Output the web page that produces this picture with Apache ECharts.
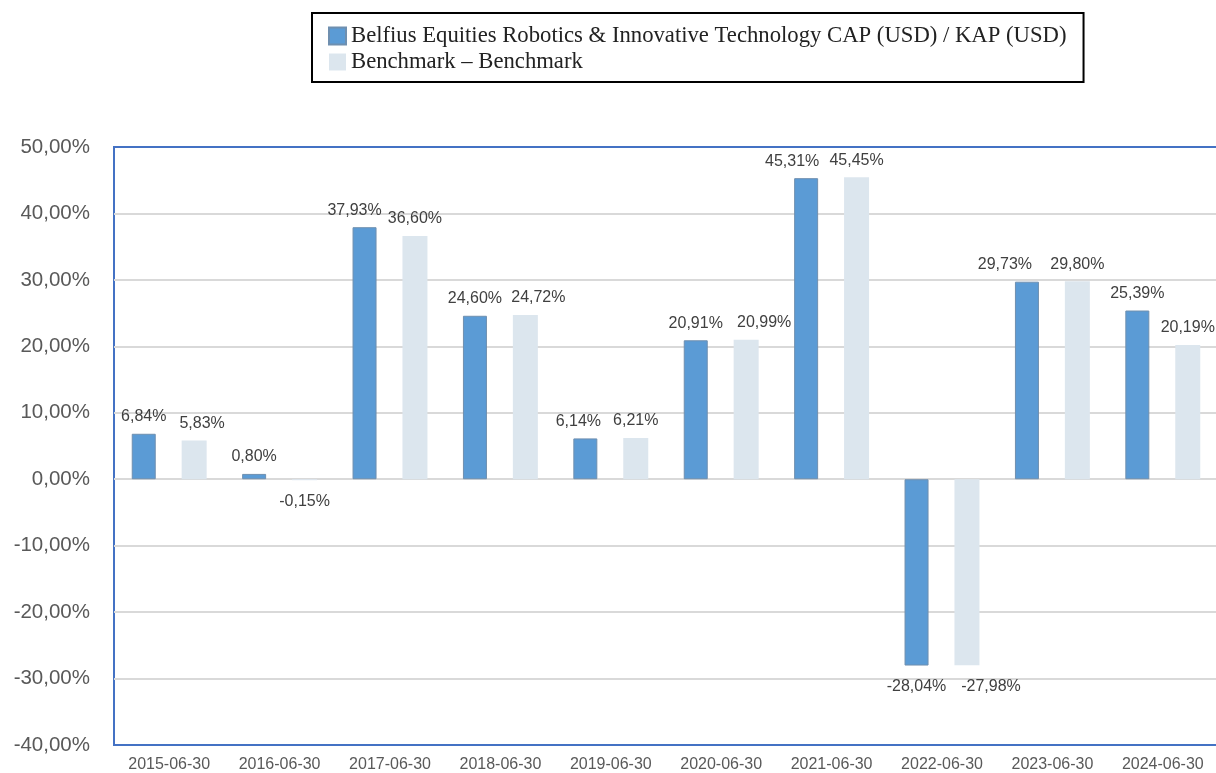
<!DOCTYPE html>
<html>
<head>
<meta charset="utf-8">
<script src="https://cdn.jsdelivr.net/npm/echarts@6/dist/echarts.min.js"></script>
<style>
  html, body { margin: 0; padding: 0; background: #fff; overflow: hidden; }
  /* 图表比窗口略宽，让右侧边框落在画面之外 */
  #chart { width: 1224px; height: 773px; }
</style>
</head>
<body>
<div id="chart"></div>
<script>
// 数据
const categories = ['2015-06-30', '2016-06-30', '2017-06-30', '2018-06-30', '2019-06-30',
  '2020-06-30', '2021-06-30', '2022-06-30', '2023-06-30', '2024-06-30'];
const fundName = 'Belfius Equities Robotics & Innovative Technology CAP (USD) / KAP (USD)';
const benchName = 'Benchmark \u2013 Benchmark';
const fundValues = [6.84, 0.80, 37.93, 24.60, 6.14, 20.91, 45.31, -28.04, 29.73, 25.39];
const benchValues = [5.83, -0.15, 36.60, 24.72, 6.21, 20.99, 45.45, -27.98, 29.80, 20.19];

// 标签水平偏移（模仿原图中避让重叠的标签位置）
const fundLabelShift = [0, 0, -10, 0, -7, 0, -14, 0, -22, 0];
const benchLabelShift = [8, 0, 0, 13, 0, 18, 0, 24, 0, 0];

const fmt = v => v.toFixed(2).replace('.', ',') + '%';

// 正值标签在上，负值标签在下
const withLabels = vals => vals.map(v => ({
  value: v,
  label: { position: v < 0 ? 'bottom' : 'top', distance: v < 0 ? 13 : 9 }
}));

const labelStyle = {
  show: true,
  color: '#404040',
  fontFamily: 'Liberation Sans',
  fontSize: 16,
  formatter: p => fmt(p.value)
};

const chart = echarts.init(document.getElementById('chart'));

const option = {
  backgroundColor: '#ffffff',
  animation: false,
  legend: {
    orient: 'vertical',
    left: 312,
    top: 13,
    padding: [11, 17, 8, 16],
    itemGap: 2,
    itemWidth: 17,
    itemHeight: 17,
    borderColor: '#000000',
    borderWidth: 2,
    icon: 'rect',
    textStyle: {
      fontFamily: 'Liberation Serif',
      fontSize: 22.7,
      lineHeight: 24,
      color: '#222222'
    },
    data: [fundName, benchName]
  },
  grid: {
    left: 114,
    top: 147,
    width: 1104,
    bottom: 27,
    show: true,
    borderColor: '#4472C4',
    borderWidth: 2,
    containLabel: false
  },
  xAxis: {
    type: 'category',
    data: categories,
    axisLine: { show: false, onZero: false },
    axisTick: { show: false },
    axisLabel: {
      color: '#595959',
      fontFamily: 'Liberation Sans',
      fontSize: 16,
      margin: 12
    }
  },
  yAxis: {
    type: 'value',
    min: -40,
    max: 50,
    interval: 10,
    axisLine: { show: false },
    axisTick: { show: false },
    axisLabel: {
      color: '#595959',
      fontFamily: 'Liberation Sans',
      fontSize: 20.5,
      margin: 24,
      padding: [4, 0, 0, 0],
      formatter: v => v.toFixed(2).replace('.', ',') + '%'
    },
    splitLine: {
      showMinLine: false,
      showMaxLine: false,
      lineStyle: { color: '#D9D9D9', width: 2 }
    }
  },
  series: [
    {
      name: fundName,
      type: 'bar',
      barWidth: 24,
      barGap: '108%',
      itemStyle: {
        color: '#5B9BD5',
        borderColor: '#6F8FAF',
        borderWidth: 1
      },
      label: labelStyle,
      labelLayout: p => ({ dx: fundLabelShift[p.dataIndex] }),
      data: withLabels(fundValues)
    },
    {
      name: benchName,
      type: 'bar',
      barWidth: 25,
      itemStyle: {
        color: '#DCE6EE'
      },
      label: labelStyle,
      labelLayout: p => ({ dx: benchLabelShift[p.dataIndex] }),
      data: withLabels(benchValues)
    }
  ]
};

chart.setOption(option);
</script>
</body>
</html>
